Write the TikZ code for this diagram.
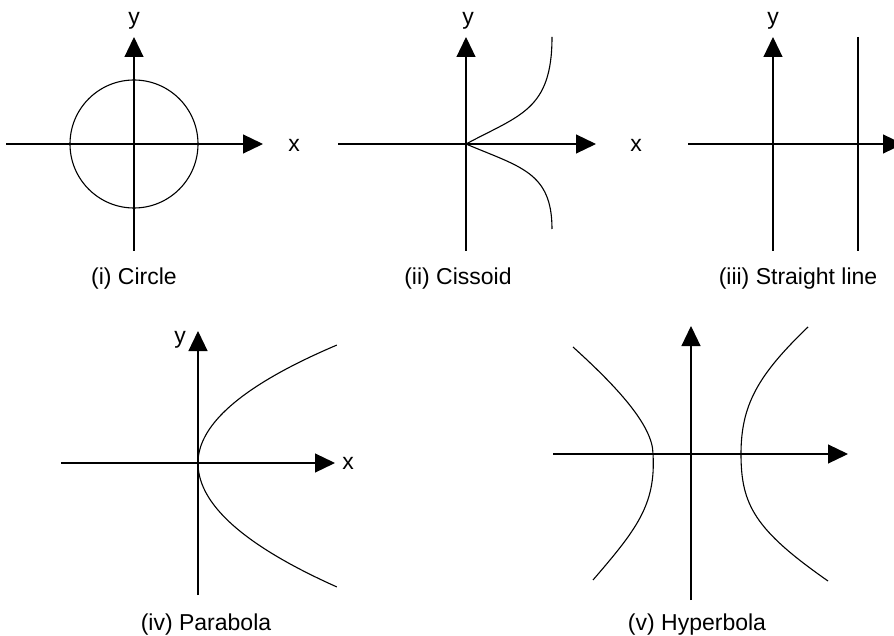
\documentclass[tikz,border=0pt]{standalone}
\usepackage{fontspec}
\setmainfont{Liberation Sans}
\usetikzlibrary{arrows.meta}
\begin{document}
\begin{tikzpicture}[x=1pt,y=-1pt,
  axis/.style={line width=1.2pt,-{Triangle[length=20pt,width=19pt]}},
  plain/.style={line width=1.2pt},
  curve/.style={line width=1.1pt},
  lbl/.style={font=\fontsize{23}{26}\selectfont,inner sep=0pt,anchor=base},
  axlbl/.style={font=\fontsize{23}{26}\selectfont,inner sep=0pt}]
\clip (0,0) rectangle (894,636);
% ---------- (i) Circle
\coordinate (aL) at (6,144); \coordinate (aR) at (263,144);
\coordinate (aB) at (134,251); \coordinate (aT) at (134,37);
\coordinate (aO) at (134,144);
\draw[axis] (aL) -- (aR);
\draw[axis] (aB) -- (aT);
\draw[curve] (aO) circle[radius=64];
\node[axlbl,anchor=base] (ay) at (134,25) {y};
\node[axlbl] (ax) at (294,145) {x};
\node[lbl] (acap) at (134,284) {(i) Circle};
% ---------- (ii) Cissoid
\coordinate (bL) at (338,144); \coordinate (bR) at (596,144);
\coordinate (bB) at (466,251); \coordinate (bT) at (466,37);
\coordinate (bO) at (466,144);
\coordinate (bU) at (552,37); \coordinate (bD) at (552,229);
\draw[axis] (bL) -- (bR);
\draw[axis] (bB) -- (bT);
\draw[curve] (bO) .. controls (520,115) and (552,110) .. (bU);
\draw[curve] (bO) .. controls (520,167) and (552,172) .. (bD);
\node[axlbl,anchor=base] (by) at (468,25) {y};
\node[axlbl] (bx) at (636,145) {x};
\node[lbl] (bcap) at (458,284) {(ii) Cissoid};
% ---------- (iii) Straight line
\coordinate (cL) at (688,144); \coordinate (cR) at (903,144);
\coordinate (cB) at (773,251); \coordinate (cT) at (773,37);
\coordinate (cU) at (858,37); \coordinate (cD) at (858,251);
\draw[axis] (cL) -- (cR);
\draw[axis] (cB) -- (cT);
\draw[plain] (cU) -- (cD);
\node[axlbl,anchor=base] (cy) at (773,25) {y};
\node[lbl] (ccap) at (798,284) {(iii) Straight line};
% ---------- (iv) Parabola
\coordinate (dL) at (61,463); \coordinate (dR) at (335,463);
\coordinate (dB) at (198,595); \coordinate (dT) at (198,331);
\draw[axis] (dL) -- (dR);
\draw[axis] (dB) -- (dT);
\draw[curve] plot[domain=0:1,samples=60,smooth] ({198+139*\x*\x},{463-118*\x});
\draw[curve] plot[domain=0:1,samples=60,smooth] ({198+139*\x*\x},{463+124*\x});
\node[axlbl,anchor=base] (dy) at (180,343) {y};
\node[axlbl] (dx) at (348,463) {x};
\node[lbl] (dcap) at (206,630) {(iv) Parabola};
% ---------- (v) Hyperbola
\coordinate (eL) at (553,454); \coordinate (eR) at (848,454);
\coordinate (eB) at (691,600); \coordinate (eT) at (691,326);
\coordinate (eV1) at (653,454); \coordinate (eV2) at (741,454);
\draw[axis] (eL) -- (eR);
\draw[axis] (eB) -- (eT);
\draw[curve] (573,347) .. controls (615,385) and (653,425) .. (eV1)
  .. controls (656,505) and (636,530) .. (593,580);
\draw[curve] (808,327) .. controls (758,375) and (741,405) .. (eV2)
  .. controls (741,505) and (755,530) .. (828,581);
\node[lbl] (ecap) at (697,630) {(v) Hyperbola};
\end{tikzpicture}
\end{document}
